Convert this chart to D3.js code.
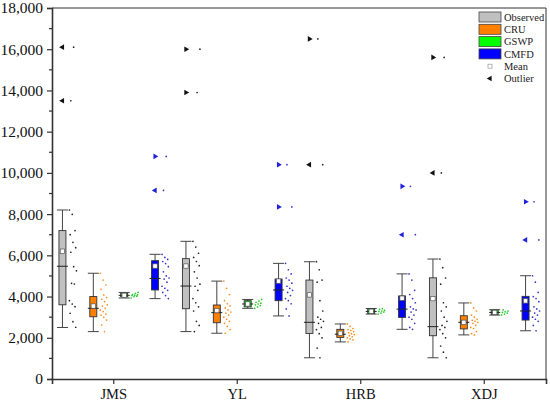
<!DOCTYPE html>
<html>
<head>
<meta charset="utf-8">
<script src="https://cdn.jsdelivr.net/npm/d3@7"></script>
<style>
  body { margin: 0; background: #fff; }
  svg { display: block; font-family: "Liberation Serif", "Times New Roman", serif; }
</style>
</head>
<body>
<div id="chart"></div>
<script>
var svgWidth = 550;
var svgHeight = 403;

var margin = { top: 8, right: 4, bottom: 24, left: 52 };
var width = svgWidth - margin.left - margin.right;
var height = svgHeight - margin.top - margin.bottom;

// stations and data sets
var categories = ["JMS", "YL", "HRB", "XDJ"];
var seriesNames = ["Observed", "CRU", "GSWP", "CMFD"];
var yTicks = [0, 2000, 4000, 6000, 8000, 10000, 12000, 14000, 16000, 18000];

// box stats per station: [lower whisker, Q1, median, Q3, upper whisker]
var observedBox = [[2500, 3600, 5470, 7200, 8200], [2300, 3410, 4510, 5840, 6680], [1030, 2210, 2750, 4800, 5690], [1030, 2100, 2540, 4910, 5820]];
var cruBox = [[2300, 3020, 3430, 4000, 5130], [2220, 2730, 3220, 3590, 4750], [1800, 2020, 2170, 2410, 2670], [2140, 2430, 2750, 3070, 3690]];
var gswpBox = [[3930, 3990, 4060, 4160, 4200], [3430, 3500, 3640, 3800, 3860], [3150, 3180, 3280, 3400, 3420], [3100, 3130, 3230, 3340, 3360]];
var cmfdBox = [[3900, 4320, 4880, 5740, 6050], [3060, 3800, 4320, 4850, 5610], [2410, 2990, 3390, 4030, 5100], [2340, 2860, 3300, 4010, 5010]];

// means
var observedMean = [6200, 5480, 4080, 3900];
var cruMean = [3540, 3320, 2220, 2750];
var gswpMean = [4060, 3640, 3285, 3230];
var cmfdMean = [5480, 4750, 3920, 3790];

// outliers
var observedOut = [[16100, 13500], [16000, 13900], [16500, 10400], [15600, 10000]];
var cruOut = [[], [], [], []];
var gswpOut = [[], [], [], []];
var cmfdOut = [[10800, 9150], [10400, 8350], [9350, 7000], [8600, 6750]];

// raw values shown next to each box
var observedPts = [
  [8200, 7990, 7200, 7000, 6630, 6370, 6150, 5450, 5250, 4640, 4610, 3800, 3640, 3510, 3190, 2780, 2510, 13500, 16100],
  [6680, 6400, 6100, 5900, 5700, 5500, 5200, 4900, 4600, 4500, 4300, 3900, 3700, 3500, 3300, 2800, 2600, 2300, 13900, 16000],
  [5690, 5300, 4800, 4700, 3800, 3300, 3000, 2900, 2800, 2700, 2500, 2400, 2200, 2000, 1500, 1030, 10400, 16500],
  [5820, 5400, 4900, 4600, 3700, 3500, 3300, 3000, 2800, 2600, 2500, 2400, 2200, 2000, 1600, 1300, 1030, 10000, 15600]
];
var cruPts = [
  [5130, 4800, 4560, 4350, 4080, 3950, 3870, 3750, 3600, 3540, 3430, 3350, 3270, 3150, 3100, 2990, 2860, 2620, 2300],
  [4750, 4400, 4100, 3800, 3650, 3550, 3450, 3350, 3250, 3200, 3100, 3000, 2900, 2800, 2700, 2550, 2400, 2220],
  [2670, 2550, 2450, 2400, 2350, 2300, 2250, 2200, 2150, 2100, 2050, 2000, 1950, 1900, 1800],
  [3690, 3450, 3300, 3100, 3000, 2900, 2850, 2800, 2750, 2700, 2600, 2500, 2450, 2300, 2200, 2140]
];
var gswpPts = [
  [3930, 3990, 4020, 4050, 4060, 4080, 4100, 4150, 4200],
  [3430, 3500, 3560, 3600, 3640, 3680, 3720, 3780, 3860],
  [3150, 3200, 3250, 3280, 3300, 3330, 3380, 3410],
  [3100, 3150, 3200, 3230, 3260, 3300, 3350]
];
var cmfdPts = [
  [6050, 5900, 5800, 5700, 5600, 5450, 5200, 5000, 4900, 4850, 4700, 4500, 4400, 4300, 4200, 4050, 3900, 9150, 10800],
  [5610, 5300, 5100, 4900, 4800, 4650, 4500, 4400, 4300, 4200, 4050, 3900, 3800, 3650, 3400, 3060, 8350, 10400],
  [5100, 4800, 4300, 4100, 3900, 3700, 3500, 3400, 3350, 3250, 3100, 3000, 2900, 2700, 2500, 2410, 7000, 9350],
  [5010, 4700, 4200, 4000, 3900, 3750, 3500, 3400, 3300, 3200, 3100, 3000, 2900, 2800, 2600, 2340, 6750, 8600]
];

var boxes = [observedBox, cruBox, gswpBox, cmfdBox];
var means = [observedMean, cruMean, gswpMean, cmfdMean];
var outs = [observedOut, cruOut, gswpOut, cmfdOut];
var pts = [observedPts, cruPts, gswpPts, cmfdPts];

var fills = ["#c0c0c0", "#ff8000", "#00ff00", "#0000ff"];
var dotColors = ["#222", "#ff8c1a", "#22cc22", "#3333cc"];
// which way the outlier triangles point, per series / station
var outDir = [
  [["L", "L"], ["R", "R"], ["R", "L"], ["R", "L"]],
  [[], [], [], []],
  [[], [], [], []],
  [["R", "L"], ["R", "R"], ["R", "L"], ["R", "L"]]
];

var svg = d3.select("#chart")
  .append("svg")
  .attr("width", svgWidth)
  .attr("height", svgHeight);

var chartGroup = svg.append("g")
  .attr("transform", `translate(${margin.left}, ${margin.top})`);

var xScale = d3.scaleBand()
  .domain(categories)
  .range([0, width])
  .padding(0);

var yScale = d3.scaleLinear()
  .domain([0, 18000])
  .range([height, 0]);

var slot = xScale.bandwidth() / seriesNames.length;
var boxW = 7;
var capW = 11;

// frame on top and right
chartGroup.append("line")
  .attr("x1", 0).attr("x2", width).attr("y1", 0).attr("y2", 0)
  .attr("stroke", "#333").attr("stroke-width", 1);
chartGroup.append("line")
  .attr("x1", width).attr("x2", width).attr("y1", 0).attr("y2", height)
  .attr("stroke", "#333").attr("stroke-width", 1);

// minor y ticks
chartGroup.append("g")
  .selectAll("line")
  .data(d3.range(1000, 18000, 2000))
  .enter().append("line")
  .attr("x1", -3).attr("x2", 0)
  .attr("y1", d => yScale(d)).attr("y2", d => yScale(d))
  .attr("stroke", "#333").attr("stroke-width", 1.2);

var leftAxis = d3.axisLeft(yScale)
  .tickValues(yTicks)
  .tickFormat(d3.format(","))
  .tickSize(5)
  .tickPadding(4);

var yAxis = chartGroup.append("g").call(leftAxis);
yAxis.select(".domain").attr("stroke", "#333").attr("stroke-width", 1.6);
yAxis.selectAll(".tick line").attr("stroke", "#333").attr("stroke-width", 1.2);
yAxis.selectAll("text")
  .attr("font-size", "15.5px")
  .attr("font-family", "Liberation Serif, serif")
  .attr("fill", "#111");

var bottomAxis = d3.axisBottom(xScale)
  .tickSize(5)
  .tickPadding(5);

var xAxis = chartGroup.append("g")
  .attr("transform", `translate(0, ${height})`)
  .call(bottomAxis);
xAxis.select(".domain").attr("stroke", "#333").attr("stroke-width", 1.6);
xAxis.selectAll(".tick line").attr("stroke", "#333").attr("stroke-width", 1.2);
xAxis.selectAll("text")
  .attr("font-size", "14.5px")
  .attr("font-family", "Liberation Serif, serif")
  .attr("fill", "#111");

// boxes
seriesNames.forEach(function(name, s) {
  categories.forEach(function(cat, c) {
    var b = boxes[s][c];
    var cx = xScale(cat) + slot * (s + 0.5) - 5;
    var g = chartGroup.append("g").attr("class", "box " + name);

    // whiskers
    g.append("line")
      .attr("x1", cx).attr("x2", cx)
      .attr("y1", yScale(b[0])).attr("y2", yScale(b[4]))
      .attr("stroke", "#444").attr("stroke-width", 1);
    [b[0], b[4]].forEach(function(v) {
      g.append("line")
        .attr("x1", cx - capW / 2).attr("x2", cx + capW / 2)
        .attr("y1", yScale(v)).attr("y2", yScale(v))
        .attr("stroke", "#444").attr("stroke-width", 1);
    });

    // box
    g.append("rect")
      .attr("x", cx - boxW / 2)
      .attr("y", yScale(b[3]))
      .attr("width", boxW)
      .attr("height", yScale(b[1]) - yScale(b[3]))
      .attr("fill", fills[s])
      .attr("stroke", "#333")
      .attr("stroke-width", 0.9);

    // median
    g.append("line")
      .attr("x1", cx - capW / 2).attr("x2", cx + capW / 2)
      .attr("y1", yScale(b[2])).attr("y2", yScale(b[2]))
      .attr("stroke", "#222").attr("stroke-width", 1);

    // mean
    g.append("rect")
      .attr("x", cx - 2.2)
      .attr("y", yScale(means[s][c]) - 2.2)
      .attr("width", 4.4).attr("height", 4.4)
      .attr("fill", "#fff")
      .attr("stroke", "#555")
      .attr("stroke-width", 0.7);

    // outliers
    outs[s][c].forEach(function(v, k) {
      g.append("path")
        .attr("d", d3.symbol().type(d3.symbolTriangle).size(14)())
        .attr("transform", `translate(${cx}, ${yScale(v)}) rotate(${outDir[s][c][k] === "L" ? -90 : 90})`)
        .attr("fill", s === 0 ? "#111" : "#2222dd");
    });

    // data points, jittered to the right of the box
    g.selectAll("circle")
      .data(pts[s][c])
      .enter().append("circle")
      .attr("cx", (d, i) => cx + 7 + ((i * 37) % 11) * 0.7)
      .attr("cy", d => yScale(d))
      .attr("r", 0.85)
      .attr("fill", dotColors[s]);
  });
});

// legend
var legendNames = seriesNames.concat(["Mean", "Outlier"]);
var legend = svg.append("g")
  .attr("transform", "translate(479, 17)");

legendNames.forEach(function(name, i) {
  var row = legend.append("g").attr("transform", `translate(0, ${i * 12.3})`);
  if (i < 4) {
    row.append("rect")
      .attr("x", 0).attr("y", -5)
      .attr("width", 22).attr("height", 10)
      .attr("fill", fills[i])
      .attr("stroke", "#444")
      .attr("stroke-width", 0.8);
  } else if (name === "Mean") {
    row.append("rect")
      .attr("x", 9).attr("y", -2)
      .attr("width", 4).attr("height", 4)
      .attr("fill", "#fff")
      .attr("stroke", "#999")
      .attr("stroke-width", 0.7);
  } else {
    row.append("path")
      .attr("d", d3.symbol().type(d3.symbolTriangle).size(14)())
      .attr("transform", "translate(11, 0) rotate(-90)")
      .attr("fill", "#111");
  }
  row.append("text")
    .attr("x", 25)
    .attr("y", 0)
    .attr("dy", "0.35em")
    .attr("font-size", "10.5px")
    .attr("fill", "#222")
    .text(name);
});
</script>
</body>
</html>
